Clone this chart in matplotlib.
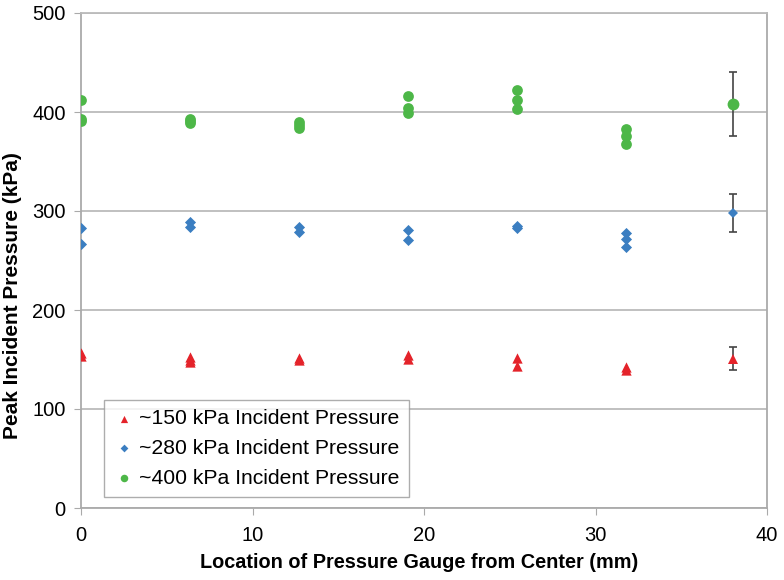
import matplotlib
matplotlib.use("Agg")
import matplotlib.pyplot as plt

plt.rcParams['font.family'] = ['Liberation Sans', 'DejaVu Sans']

# Data
x_red = [0, 0, 6.35, 6.35, 6.35, 12.7, 12.7, 19.05, 19.05, 25.4, 25.4, 31.75, 31.75]
y_red = [157, 154, 153, 150, 147, 152, 149, 155, 151, 152, 143, 142, 139]
x_blue = [0, 0, 6.35, 6.35, 12.7, 12.7, 19.05, 19.05, 25.4, 25.4, 31.75, 31.75, 31.75]
y_blue = [283, 267, 289, 284, 284, 279, 281, 271, 285, 283, 278, 272, 264]
x_green = [0, 0, 0, 6.35, 6.35, 6.35, 12.7, 12.7, 12.7, 19.05, 19.05, 19.05, 25.4, 25.4, 25.4, 31.75, 31.75, 31.75]
y_green = [412, 393, 391, 393, 391, 389, 390, 387, 384, 416, 404, 399, 422, 412, 403, 383, 376, 368]

# Averages with error bars
x_avg = 38
avg_red, err_red = 151, 11.5
avg_blue, err_blue = 298, 19
avg_green, err_green = 408, 32

labels = ['~150 kPa Incident Pressure', '~280 kPa Incident Pressure', '~400 kPa Incident Pressure']
c_red, c_blue, c_green = '#E4232A', '#3B7EC1', '#4DB748'

fig = plt.figure(figsize=(7.84, 5.8), dpi=100)
ax = fig.add_axes([81/784, 1 - 508/580, (767-81)/784, (508-13)/580])

ax.scatter(x_red, y_red, marker='^', s=55, color=c_red, zorder=3, label=labels[0], linewidths=0)
ax.scatter(x_blue, y_blue, marker='D', s=32, color=c_blue, zorder=3, label=labels[1], linewidths=0)
ax.scatter(x_green, y_green, marker='o', s=60, color=c_green, zorder=3, label=labels[2], linewidths=0)

for avg, err, mk, ms, col in [(avg_red, err_red, '^', 7.5, c_red),
                              (avg_blue, err_blue, 'D', 5.5, c_blue),
                              (avg_green, err_green, 'o', 8.5, c_green)]:
    ax.errorbar([x_avg], [avg], yerr=[err], fmt='none', ecolor='#444444',
                elinewidth=1.2, capsize=3, capthick=1.2, zorder=2.5)
    ax.plot([x_avg], [avg], marker=mk, ms=ms, color=col, mec=col, mew=0, ls='none', zorder=3)

ax.set_xlim(0, 40)
ax.set_ylim(0, 500)
ax.set_xticks([0, 10, 20, 30, 40])
ax.set_yticks([0, 100, 200, 300, 400, 500])
ax.grid(axis='y', color='#BBBBBB', linewidth=1.3)
ax.set_axisbelow(True)
for s in ax.spines.values():
    s.set_color('#AAAAAA')
    s.set_linewidth(1.3)
ax.spines['top'].set_color('#BBBBBB')
ax.tick_params(axis='both', length=5, color='#AAAAAA', labelsize=14.5)
ax.tick_params(axis='x', pad=8)
ax.tick_params(axis='y', pad=6)

ax.set_xlabel('Location of Pressure Gauge from Center (mm)', fontsize=14.3, fontweight='bold', va='center')
ax.xaxis.set_label_coords(0.493, -0.111)
ax.set_ylabel('Peak Incident Pressure (kPa)', fontsize=15, fontweight='bold', va='center')
ax.yaxis.set_label_coords(-0.1, 0.43)

leg = ax.legend(loc='lower left', bbox_to_anchor=((104-81)/686, (508-497)/495), fontsize=15.2,
                frameon=True, fancybox=False, edgecolor='#999999', handletextpad=0.2,
                borderpad=0.45, labelspacing=0.5, handlelength=1.0, markerscale=0.7,
                borderaxespad=0)
leg.get_frame().set_linewidth(1.0)

fig.savefig('out.png', dpi=100)
